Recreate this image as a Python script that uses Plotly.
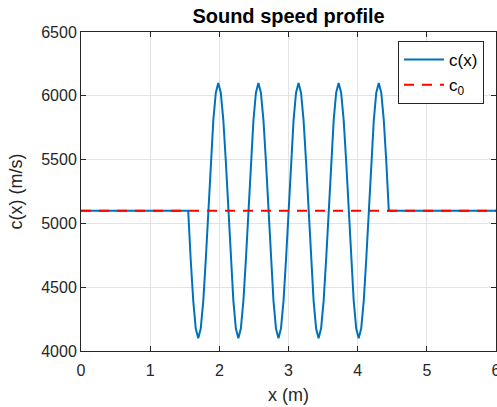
import plotly.graph_objects as go

# Values
x_vals = [0.0,
          1.550, 1.586, 1.623, 1.659, 1.695, 1.731, 1.768, 1.804,
          1.840, 1.876, 1.913, 1.949, 1.985, 2.021, 2.058, 2.094,
          2.130, 2.166, 2.203, 2.239, 2.275, 2.311, 2.348, 2.384,
          2.420, 2.456, 2.493, 2.529, 2.565, 2.601, 2.638, 2.674,
          2.710, 2.746, 2.783, 2.819, 2.855, 2.891, 2.928, 2.964,
          3.000, 3.036, 3.073, 3.109, 3.145, 3.181, 3.218, 3.254,
          3.290, 3.326, 3.363, 3.399, 3.435, 3.471, 3.508, 3.544,
          3.580, 3.616, 3.653, 3.689, 3.725, 3.761, 3.798, 3.834,
          3.870, 3.906, 3.943, 3.979, 4.015, 4.051, 4.088, 4.124,
          4.160, 4.196, 4.233, 4.269, 4.305, 4.341, 4.378, 4.414,
          4.450, 6.0]
c_vals = [5100,
          5100, 4717, 4393, 4176, 4100, 4176, 4393, 4717,
          5100, 5483, 5807, 6024, 6100, 6024, 5807, 5483,
          5100, 4717, 4393, 4176, 4100, 4176, 4393, 4717,
          5100, 5483, 5807, 6024, 6100, 6024, 5807, 5483,
          5100, 4717, 4393, 4176, 4100, 4176, 4393, 4717,
          5100, 5483, 5807, 6024, 6100, 6024, 5807, 5483,
          5100, 4717, 4393, 4176, 4100, 4176, 4393, 4717,
          5100, 5483, 5807, 6024, 6100, 6024, 5807, 5483,
          5100, 4717, 4393, 4176, 4100, 4176, 4393, 4717,
          5100, 5483, 5807, 6024, 6100, 6024, 5807, 5483,
          5100, 5100]
c0_x = [0, 6]
c0_vals = [5100, 5100]

x_ticks = [0, 1, 2, 3, 4, 5, 6]
y_ticks = [4000, 4500, 5000, 5500, 6000, 6500]

font_family = "Liberation Sans, Arial, sans-serif"
axis_color = "#262626"

fig = go.Figure()
fig.add_trace(go.Scatter(x=x_vals, y=c_vals, mode="lines", name="c(x)",
                         line=dict(color="#0072BD", width=2, shape="linear")))
fig.add_trace(go.Scatter(x=c0_x, y=c0_vals, mode="lines", name="c<sub>0</sub>",
                         line=dict(color="#FF0000", width=2, dash="10px,8px")))

axis_common = dict(showline=True, linecolor=axis_color, linewidth=1, mirror="allticks",
                   ticks="inside", ticklen=5, tickcolor=axis_color, showgrid=True,
                   gridcolor="#E3E3E3", gridwidth=1, zeroline=False,
                   tickfont=dict(family=font_family, size=16, color=axis_color),
                   ticklabeloverflow="allow", automargin=False)

fig.update_layout(
    width=497, height=407,
    margin=dict(l=81, r=1, t=32, b=56),
    paper_bgcolor="white", plot_bgcolor="white",
    font=dict(family=font_family, color=axis_color),
    title=dict(text="<b>Sound speed profile</b>", xref="paper", x=0.5, xanchor="center",
               yref="container", y=1 - 16 / 407, yanchor="middle",
               font=dict(family=font_family, size=20, color="#000000")),
    xaxis=dict(range=[0, 6], tickvals=x_ticks, ticklabelstandoff=5,
               title=dict(text="x (m)", font=dict(family=font_family, size=18, color=axis_color), standoff=10),
               **axis_common),
    yaxis=dict(range=[4000, 6500], tickvals=y_ticks,
               title=dict(text="c(x) (m/s)", font=dict(family=font_family, size=18, color=axis_color), standoff=13),
               **axis_common),
    showlegend=True,
    legend=dict(x=(484 - 81) / 415, y=1 - (41 - 32) / 319, xanchor="right", yanchor="top",
                bgcolor="white", bordercolor=axis_color, borderwidth=1,
                font=dict(family=font_family, size=17, color="#000000"),
                tracegroupgap=0, itemwidth=40),
)

fig.write_html("out.html", config={"displayModeBar": False},
               post_script="document.body.style.margin='0px';")
